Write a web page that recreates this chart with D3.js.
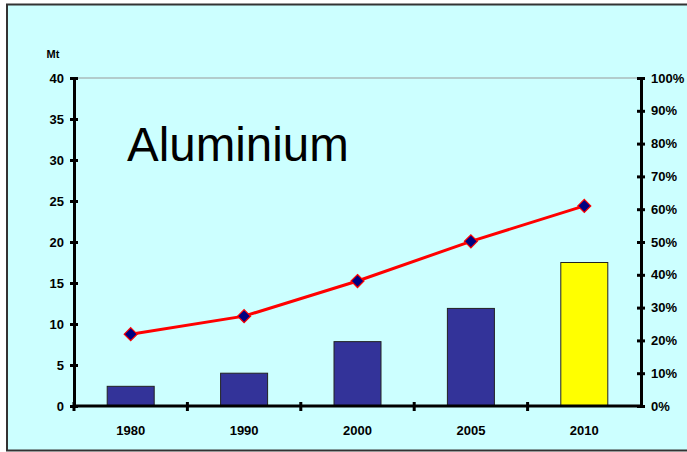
<!DOCTYPE html>
<html><head><meta charset="utf-8">
<script src="https://cdn.jsdelivr.net/npm/d3@7"></script>
<style>body{margin:0;background:#fff}svg{display:block}</style>
</head><body>
<svg id="c" width="687" height="452"></svg>
<script>
const years = ["1980","1990","2000","2005","2010"];
const production = [2.4, 4.0, 7.85, 11.9, 17.5];
const share = [0.219, 0.274, 0.381, 0.502, 0.61];
const barColors = ["#333399","#333399","#333399","#333399","#FFFF00"];
const leftTicks = [0,5,10,15,20,25,30,35,40];
const rightTicks = [0,0.1,0.2,0.3,0.4,0.5,0.6,0.7,0.8,0.9,1];

const svg = d3.select("#c");
svg.append("rect").attr("x",7).attr("y",4.5).attr("width",690).attr("height",446)
  .attr("fill","#CCFFFF").attr("stroke","#333333").attr("stroke-width",2);

const L=74, R=641, T=78, B=406;
const x = d3.scaleBand().domain(years).range([L,R]);
const y = d3.scaleLinear().domain([0,40]).range([B,T]);
const y2 = d3.scaleLinear().domain([0,1]).range([B,T]);
const font = "'Liberation Sans', Arial, sans-serif";

// top plot border
svg.append("line").attr("x1",L).attr("x2",R).attr("y1",T).attr("y2",T)
  .attr("stroke","#999").attr("stroke-width",1);

// bars
const bw = 47;
svg.selectAll("rect.bar").data(years).join("rect").attr("class","bar")
  .attr("x",d=>x(d)+x.bandwidth()/2-bw/2)
  .attr("width",bw)
  .attr("y",(d,i)=>y(production[i]))
  .attr("height",(d,i)=>B-y(production[i]))
  .attr("fill",(d,i)=>barColors[i])
  .attr("stroke","#222").attr("stroke-width",1);

// axes
function styleAxis(g){
  g.select(".domain").attr("stroke","#000").attr("stroke-width",3);
  g.selectAll(".tick line").attr("stroke","#000").attr("stroke-width",3);
  g.selectAll(".tick text").attr("font-family",font).attr("font-weight","bold")
   .attr("font-size","13px").attr("fill","#000");
}
const gl = svg.append("g").attr("transform",`translate(${L},0)`)
  .call(d3.axisLeft(y).tickValues(leftTicks).tickSize(8).tickSizeOuter(0).tickPadding(4));
gl.selectAll(".tick line").attr("x1",4).attr("x2",-4);
styleAxis(gl);
gl.selectAll(".tick text").attr("x",-10);

const gr = svg.append("g").attr("transform",`translate(${R},0)`)
  .call(d3.axisRight(y2).tickValues(rightTicks).tickFormat(d3.format(".0%")).tickSizeOuter(0));
gr.selectAll(".tick line").attr("x1",-4).attr("x2",4);
styleAxis(gr);
gr.selectAll(".tick text").attr("x",10);

const gb = svg.append("g").attr("transform",`translate(0,${B})`)
  .call(d3.axisBottom(x).tickSize(0).tickSizeOuter(0).tickPadding(20));
styleAxis(gb);
gb.select(".domain").attr("d",`M${L},0H${R}`);
// category separator ticks
const seps = years.map(d=>x(d));
gb.selectAll("line.sep").data(seps).join("line").attr("class","sep")
  .attr("x1",d=>d).attr("x2",d=>d).attr("y1",-4).attr("y2",5)
  .attr("stroke","#000").attr("stroke-width",3);

// line
const line = d3.line().x((d,i)=>x(years[i])+x.bandwidth()/2).y(d=>y2(d));
svg.append("path").datum(share).attr("d",line).attr("fill","none")
  .attr("stroke","#FF0000").attr("stroke-width",3);
svg.selectAll("path.mk").data(share).join("path").attr("class","mk")
  .attr("transform",(d,i)=>`translate(${x(years[i])+x.bandwidth()/2},${y2(d)})`)
  .attr("d","M0,-6.5L6.5,0L0,6.5L-6.5,0Z")
  .attr("fill","#000080").attr("stroke","#FF0000").attr("stroke-width",1.2);

// labels
svg.append("text").attr("x",53).attr("y",58).attr("text-anchor","middle")
  .attr("font-family",font).attr("font-weight","bold").attr("font-size","11px").text("Mt");
svg.append("text").attr("x",127).attr("y",161)
  .attr("font-family",font).attr("font-size","47.5px").attr("fill","#000").text("Aluminium");
</script>
</body></html>
